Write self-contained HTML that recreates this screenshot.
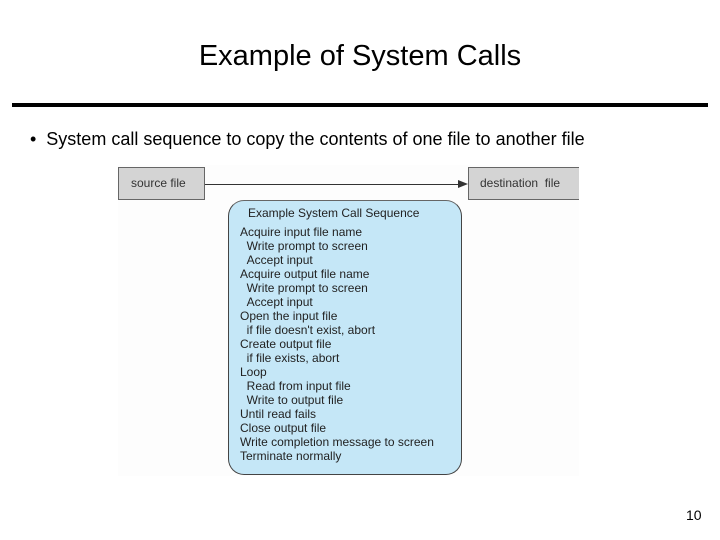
<!DOCTYPE html>
<html><head><style>
body{margin:0;width:720px;height:540px;background:#fff;position:relative;font-family:"Liberation Sans",sans-serif;overflow:hidden}
.a{position:absolute;white-space:nowrap}
</style></head><body>
<div class="a" style="left:0;width:720px;top:40px;text-align:center;font-size:29px;color:#000">Example of System Calls</div>
<div class="a" style="left:12px;top:103px;width:696px;height:4px;background:#000"></div>
<div class="a" style="left:30px;top:129px;font-size:18px">•&nbsp;&nbsp;System call sequence to copy the contents of one file to another file</div>
<div class="a" style="left:118px;top:165px;width:461px;height:311px;background:#fdfdfd"></div>
<div class="a" style="left:118px;top:167px;width:87px;height:33px;background:#d4d4d4;border:1px solid #666;box-sizing:border-box;font-size:12px;color:#333;line-height:31px;padding-left:12px">source file</div>
<div class="a" style="left:468px;top:167px;width:111px;height:33px;background:#d4d4d4;border:1px solid #666;border-right:none;box-sizing:border-box;font-size:12px;color:#333;line-height:31px;padding-left:11px">destination&nbsp; file</div>
<div class="a" style="left:205px;top:184px;width:256px;height:1px;background:#333"></div>
<div class="a" style="left:458px;top:180px;width:0;height:0;border-left:10px solid #333;border-top:4px solid transparent;border-bottom:4px solid transparent"></div>
<div class="a" style="left:228px;top:200px;width:234px;height:275px;background:#c5e7f7;border:1px solid #444;border-top-color:#666;box-sizing:border-box;border-radius:16px"></div>
<div class="a" style="left:240px;top:206px;font-size:12px;line-height:14px;color:#222">
<div style="padding-left:8px;margin-bottom:5px">Example System Call Sequence</div>
Acquire input file name<br>&nbsp;&nbsp;Write prompt to screen<br>&nbsp;&nbsp;Accept input<br>Acquire output file name<br>&nbsp;&nbsp;Write prompt to screen<br>&nbsp;&nbsp;Accept input<br>Open the input file<br>&nbsp;&nbsp;if file doesn't exist, abort<br>Create output file<br>&nbsp;&nbsp;if file exists, abort<br>Loop<br>&nbsp;&nbsp;Read from input file<br>&nbsp;&nbsp;Write to output file<br>Until read fails<br>Close output file<br>Write completion message to screen<br>Terminate normally
</div>
<div class="a" style="left:686px;top:507px;font-size:14px">10</div>
</body></html>
